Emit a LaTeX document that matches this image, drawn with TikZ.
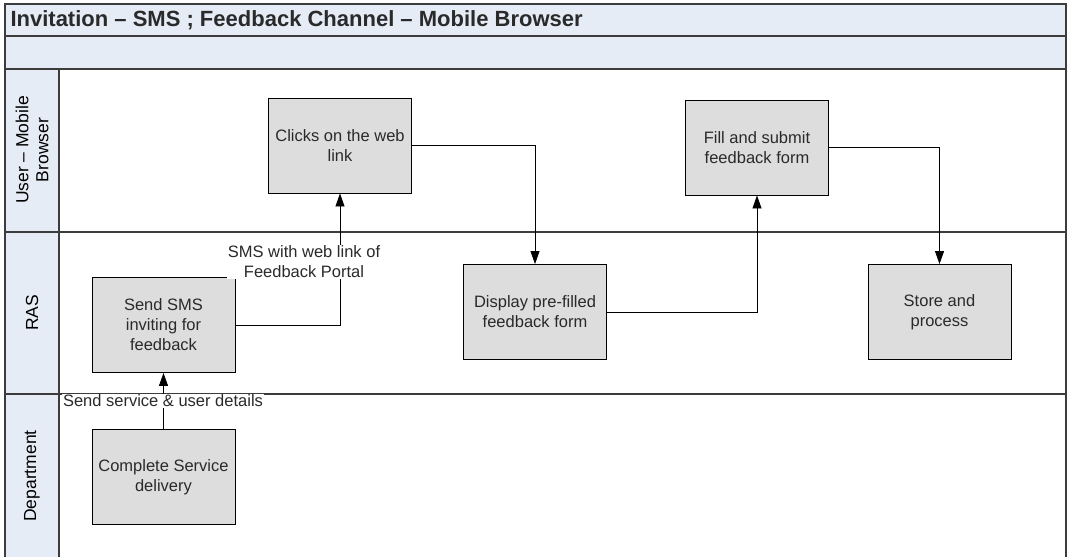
\documentclass[tikz,border=0pt]{standalone}
\usepackage{fontspec}
\setmainfont{Liberation Sans}
\usetikzlibrary{arrows.meta}
\definecolor{lanebg}{HTML}{E6ECF6}
\definecolor{boxfill}{HTML}{DDDDDD}
\definecolor{frameline}{HTML}{3C3C3C}
\definecolor{textgray}{HTML}{2A2A2A}
\tikzset{
    task/.style={rectangle, draw=black, line width=0.9pt, fill=boxfill, minimum width=143pt, minimum height=95pt, align=center, font=\fontsize{16.5}{20}\selectfont, text=textgray},
    lanelabel/.style={rotate=90, align=center, font=\fontsize{17.5}{20}\selectfont, text=black},
    flow/.style={-{Triangle[length=13pt,width=9pt]}, black, line width=0.8pt},
    flowlabel/.style={fill=white, inner sep=1pt, align=center, font=\fontsize{16.5}{20}\selectfont, text=textgray},
    laneline/.style={frameline, line width=1.4pt}
}

\begin{document}
\begin{tikzpicture}[x=1pt, y=-1pt]
\useasboundingbox (0,0) rectangle (1070,557);
% pool frame and bands
\fill[lanebg] (5,4) rectangle (1066,69);
\fill[lanebg] (5,69) rectangle (59,557);
\draw[laneline] (5,557) -- (5,4) -- (1066,4) -- (1066,557);
\draw[laneline] (5,36) -- (1066,36);
\draw[laneline] (5,69) -- (1066,69);
\draw[laneline] (5,232) -- (1066,232);
\draw[laneline] (5,394) -- (1066,394);
\draw[laneline] (59,69) -- (59,557);
\node[anchor=west, font=\fontsize{22}{24}\selectfont\bfseries, text=textgray] (title) at (7,20) {Invitation -- SMS ; Feedback Channel -- Mobile Browser};

% lanes
\node[lanelabel] (user) at (32,150) {User -- Mobile\\Browser};
\node[lanelabel] (ras) at (32,313) {RAS};
\node[lanelabel] (dept) at (32,476) {Department};

% tasks
\node[task] (clicks) at (340,145.5) {Clicks on the web\\link};
\node[task] (fill) at (757,147.5) {Fill and submit\\feedback form};
\node[task] (sendsms) at (163.5,325) {Send SMS\\inviting for\\feedback};
\node[task] (display) at (535,312) {Display pre-filled\\feedback form};
\node[task] (store) at (939.5,312) {Store and\\process};
\node[task] (complete) at (163.5,477) {Complete Service\\delivery};

% flows
\draw[flow] (complete.north) -- (sendsms.south);
\draw[flow] (sendsms.east) -| (clicks.south);
\draw[flow] (clicks.east) -| (display.north);
\draw[flow] (display.east) -| (fill.south);
\draw[flow] (fill.east) -| (store.north);
\node[flowlabel] (details) at (163,401) {Send service \& user details};
\node[flowlabel] (smslink) at (304,262) {SMS with web link of\\Feedback Portal};
\end{tikzpicture}
\end{document}
